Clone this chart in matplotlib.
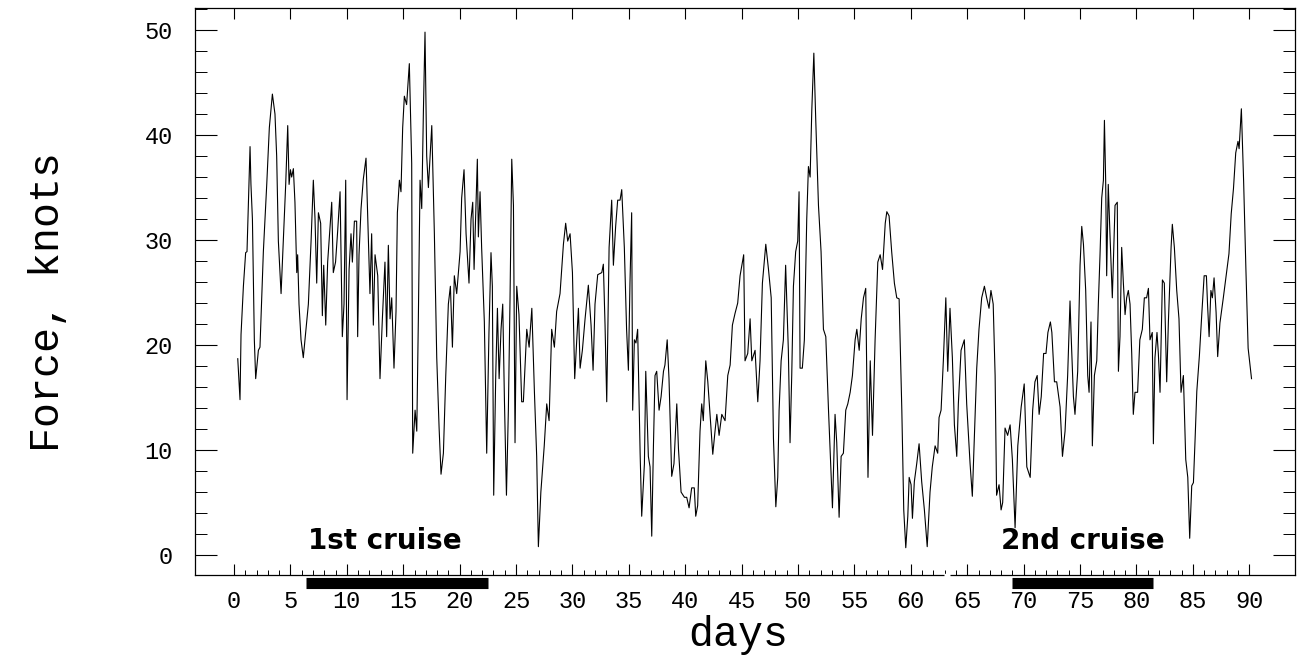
import numpy as np
import matplotlib
matplotlib.use("Agg")
import matplotlib.pyplot as plt
from matplotlib.ticker import MultipleLocator, FixedLocator
from matplotlib.transforms import blended_transform_factory

# wind force time series (days, knots)
days = [
    0.33, 0.53, 0.62, 0.83, 1.03, 1.15, 1.33, 1.42, 1.5, 1.63, 1.8, 1.92, 2.04, 2.16, 2.3, 2.6,
    2.9, 3.13, 3.4, 3.63, 3.78, 3.93, 4.17, 4.37, 4.58, 4.76, 4.88, 5.0, 5.11, 5.26, 5.4, 5.56,
    5.64, 5.76, 5.94, 6.14, 6.35, 6.59, 6.83, 7.03, 7.18, 7.33, 7.48, 7.68, 7.83, 7.95, 8.13, 8.3,
    8.51, 8.66, 8.8, 9.0, 9.19, 9.4, 9.6, 9.75, 9.9, 10.02, 10.2, 10.37, 10.49, 10.67, 10.87, 10.96,
    11.08, 11.26, 11.46, 11.7,
    12.05, 12.2, 12.35, 12.5, 12.74, 12.94, 13.15, 13.38, 13.53, 13.68, 13.83, 13.98, 14.18, 14.36,
    14.48, 14.66, 14.8, 14.95, 15.1, 15.3, 15.54, 15.75, 15.84, 16.05, 16.2, 16.34, 16.49, 16.64,
    16.79, 16.93, 17.08, 17.23, 17.38, 17.53, 17.76, 17.97, 18.18, 18.35, 18.56, 18.77, 19.0, 19.18,
    19.36, 19.53, 19.74, 20.04, 20.18, 20.39, 20.57, 20.83, 21.01, 21.16, 21.28, 21.42, 21.57, 21.66,
    21.81, 21.95, 22.19, 22.4, 22.6, 22.78, 22.9, 23.02, 23.2, 23.35, 23.5, 23.67, 23.82, 23.97, 24.15,
    24.32, 24.47, 24.62, 24.77, 24.91, 25.06, 25.26, 25.5, 25.65, 25.95, 26.16, 26.4, 26.63, 26.83,
    26.98, 27.2, 27.5, 27.72, 27.93, 28.16, 28.4, 28.6, 28.9, 29.2, 29.4, 29.58, 29.79, 30.0, 30.2,
    30.53, 30.68, 30.88, 31.12, 31.41, 31.65, 31.83, 32.0, 32.24, 32.6, 32.74, 32.89, 33.04, 33.25,
    33.48, 33.63, 33.83, 34.01, 34.22, 34.37, 34.6, 34.8, 34.96, 35.1, 35.25, 35.34, 35.49, 35.63,
    35.78, 36.0, 36.14, 36.38,
    36.5, 36.73, 36.88, 37.03, 37.18, 37.32, 37.47, 37.68, 37.86, 38.07, 38.2, 38.4, 38.56, 38.8,
    39.0, 39.25, 39.4, 39.63, 39.93, 40.13, 40.34, 40.57, 40.8, 40.93, 41.1, 41.31, 41.46, 41.6,
    41.82, 42.0, 42.2, 42.44, 42.64, 42.8, 43.0, 43.24, 43.53, 43.77, 43.98, 44.18, 44.41, 44.65,
    44.86, 45.07, 45.18, 45.3, 45.54, 45.75, 45.9, 46.19, 46.43, 46.63, 46.84, 47.14, 47.38, 47.62,
    47.82, 48.03, 48.2, 48.32, 48.5, 48.7,
    48.9, 49.14, 49.29, 49.44, 49.59, 49.79, 49.97, 50.09, 50.18, 50.38, 50.56, 50.77, 50.92, 51.07,
    51.22, 51.4, 51.57, 51.81, 52.04, 52.25, 52.46, 52.7, 53.05, 53.28, 53.43, 53.64, 53.82, 54.02,
    54.23, 54.41, 54.62, 54.82, 55.06, 55.21, 55.42, 55.6, 55.8, 56.0, 56.2, 56.4, 56.6, 56.83,
    57.07, 57.28, 57.49, 57.73, 57.87, 58.07, 58.3, 58.54, 58.75, 58.96, 59.2, 59.37, 59.55, 59.73,
    59.85, 60.02, 60.14, 60.31, 60.52, 60.73, 60.96, 61.2, 61.45,
    61.7, 61.9, 62.15, 62.38, 62.5, 62.68, 62.88, 63.1, 63.27, 63.47, 63.68, 63.86, 64.07, 64.21,
    64.45, 64.74, 64.95, 65.25, 65.45, 65.63, 65.84, 66.04, 66.28, 66.52, 66.72, 66.93, 67.1, 67.3,
    67.47, 67.6, 67.82, 68.0, 68.14, 68.35, 68.58, 68.8, 69.0, 69.24, 69.48, 69.78, 70.05, 70.28,
    70.58, 70.8, 71.0, 71.2, 71.37, 71.56, 71.77, 71.98, 72.15, 72.37, 72.5, 72.73, 72.93, 73.23,
    73.44,
    73.67, 73.9, 74.11, 74.2, 74.41, 74.55, 74.79, 75.0, 75.15, 75.3, 75.5, 75.68, 75.8, 75.97,
    76.09, 76.27, 76.48, 76.62, 76.77, 76.92, 77.07, 77.16, 77.27, 77.36, 77.5, 77.65, 77.86, 78.1,
    78.3, 78.4, 78.54, 78.69, 78.84, 78.99, 79.13, 79.28, 79.43, 79.58, 79.72, 79.87, 80.1, 80.3,
    80.52, 80.7, 80.9, 81.06, 81.2, 81.4, 81.5, 81.64, 81.82, 81.94, 82.09, 82.3, 82.47, 82.68,
    82.83, 83.07, 83.18, 83.36, 83.57, 83.77, 83.95, 84.16, 84.37, 84.55, 84.72,
    84.9, 85.05, 85.2, 85.35, 85.58, 85.8, 86.0, 86.2, 86.3, 86.44, 86.6, 86.73, 86.88, 87.06,
    87.2, 87.4, 87.7, 88.0, 88.2, 88.4, 88.6, 88.8, 89.0, 89.1, 89.3, 89.5, 89.7, 89.9, 90.2,
]
force = [
    18.7, 14.8, 21, 25.6, 28.8, 28.9, 35.7, 38.9, 35.3, 32, 20.5, 16.8, 18.1, 19.5, 19.8, 28.9,
    35.3, 40.7, 43.9, 42, 38, 29.9, 24.9, 29.9, 35.3, 40.9, 35.3, 36.7, 36, 36.8, 33.6, 26.9,
    28.6, 23.9, 20.5, 18.8, 21.2, 23.9, 29.9, 35.7, 32, 25.9, 32.6, 31.6, 22.8, 27.6, 21.9, 27.9,
    31.3, 33.6, 26.9, 27.9, 30.9, 34.6, 20.8, 23.9, 35.7, 14.8, 27.2, 30.6, 27.9, 31.8, 31.8, 20.8,
    28.6, 33, 35.8, 37.8,
    24.9, 30.6, 21.9, 28.6, 26.6, 16.8, 22.5, 27.9, 20.8, 29.5, 22.5, 24.5, 17.8, 23.2,
    32.6, 35.7, 34.6, 40.7, 43.7, 42.9, 46.8, 37.3, 9.7, 13.8, 11.8, 22.5, 35.7, 33,
    42.4, 49.8, 38, 35, 38, 40.9, 30.6, 18.8, 12.1, 7.7, 9.7, 17.1, 23.9, 25.6,
    19.8, 26.6, 24.9, 28.9, 34, 36.7, 30.6, 25.9, 32, 33.6, 27.2, 32.3, 37.7, 30.3,
    34.6, 29.3, 22.2, 9.7, 21.2, 28.8, 25.6, 5.7, 17.1, 23.5, 16.8, 21.5, 23.9, 14.8, 5.7,
    13.8, 24.6, 37.7, 33.3, 10.7, 25.6, 22.9, 14.6, 14.6, 21.5, 19.8, 23.5, 15.5, 9.4,
    0.8, 6, 10.4, 14.4, 12.8, 21.5, 19.8, 23.2, 24.9, 29.6, 31.6, 29.9, 30.6, 26.9, 16.8,
    23.5, 17.8, 19.5, 22.5, 25.7, 21.9, 17.6, 23.9, 26.7, 26.9, 27.7, 21.9, 14.6, 29.3,
    33.8, 27.6, 31.3, 33.8, 33.8, 34.8, 29.3, 21.5, 17.6, 25.9, 32.6, 13.8, 20.5, 20.2,
    21.5, 9.7, 3.7, 8.7,
    17.5, 9.4, 8.4, 1.8, 10.4, 17.1, 17.5, 13.8, 15.1, 17.5, 18.1, 20.5, 16.8, 7.5,
    8.7, 14.4, 10.1, 6, 5.5, 5.5, 4.5, 6.4, 6.4, 3.7, 4.7, 11.8, 14.4, 12.8,
    18.5, 16.5, 13.4, 9.6, 11.8, 13.4, 11.4, 13.4, 12.8, 17.1, 18.1, 21.9, 23, 24,
    26.6, 27.9, 28.6, 18.5, 19.2, 22.5, 18.5, 19.5, 14.6, 18.5, 25.9, 29.6, 27.2, 24.5,
    11.1, 4.6, 7.4, 13.8, 18.5, 20.5,
    27.6, 19.5, 10.7, 17.1, 25.6, 28.9, 29.9, 34.6, 17.8, 17.8, 20.5, 32, 37, 36,
    42.4, 47.8, 41.4, 33.3, 28.9, 21.5, 20.8, 13.8, 4.5, 13.4, 10.7, 3.6, 9.4, 9.7,
    13.8, 14.4, 15.5, 17.1, 20.5, 21.5, 19.5, 22.5, 24.5, 25.4, 7.4, 18.5, 11.4, 20.5,
    27.9, 28.6, 27.2, 31.6, 32.7, 32.3, 28.9, 25.9, 24.5, 24.4, 13.8, 4.3, 0.7, 3.7,
    7.4, 6.7, 3.5, 7, 8.7, 10.6, 7, 4.3, 0.8,
    6, 8.4, 10.4, 9.7, 13.1, 13.8, 18.5, 24.5, 17.5, 23.5, 18.8, 12.4, 9.4, 14.4,
    19.5, 20.5, 14.4, 8.7, 5.6, 11.1, 17.8, 21.5, 24.5, 25.6, 24.5, 23.5, 25.2, 23.9,
    17.1, 5.7, 6.7, 4.3, 5, 12.1, 11.4, 12.4, 9.1, 2.6, 10.4, 14.1, 16.3, 8.4,
    7.4, 13.8, 16.5, 17.1, 13.4, 15.1, 19.2, 19.2, 21.2, 22.2, 21.2, 16.5, 16.5, 14.1,
    9.4,
    11.8, 17.1, 24.2, 21.2, 15.1, 13.4, 17.5, 27.6, 31.3, 29.6, 25.2, 17.1, 15.5, 22.2,
    10.4, 17.1, 18.5, 23.9, 28.6, 34, 35.7, 41.4, 35.7, 26.6, 35.3, 30.6, 24.5, 33.3,
    33.6, 17.5, 20.8, 29.3, 25.9, 22.9, 24.5, 25.2, 23.9, 19.2, 13.4, 15.5, 15.5, 20.5,
    21.5, 24.5, 24.5, 25.4, 20.5, 21.2, 10.6, 18.8, 21.2, 19.2, 15.5, 26.2, 25.9, 16.5,
    22.2, 29.3, 31.5, 29.3, 25.2, 22.5, 15.5, 17.1, 9.1, 7.4, 1.6,
    6.6, 6.9, 11.1, 15.6, 19, 23.1, 26.6, 26.6, 23.9, 20.8, 25.2, 24.5, 26.4, 23.1,
    18.9, 22.1, 24.5, 27, 28.7, 32.5, 34.9, 38.3, 39.4, 38.7, 42.5, 35.6, 27.3, 19.7, 16.8,
]

# cruise periods shown as black bars under the axis
cruise_names = ["1st cruise", "2nd cruise"]
cruise_start = [6.4, 69.0]
cruise_end = [22.5, 81.5]
cruise_label_x = [13.4, 75.2]

x_ticks = list(range(0, 91, 5))
y_ticks = [0, 10, 20, 30, 40, 50]

mono = "Liberation Mono"

fig = plt.figure(figsize=(13, 6.55), dpi=100)
ax = fig.add_axes([0.15, 0.1221, 0.8462, 0.8657])

ax.plot(days, force, color="black", linewidth=0.8)

ax.set_xlim(-3.46, 94.06)
ax.set_ylim(-1.9, 52.1)

# ticks: inward on every side, like the original plotting package
ax.xaxis.set_major_locator(FixedLocator(x_ticks))
ax.xaxis.set_minor_locator(FixedLocator(list(range(0, 91))))
ax.yaxis.set_major_locator(FixedLocator(y_ticks))
ax.yaxis.set_minor_locator(MultipleLocator(2))

ax.tick_params(axis="y", which="major", direction="in", length=16, width=0.8,
               left=True, right=True, pad=16, labelsize=17)
ax.tick_params(axis="y", which="minor", direction="in", length=8.5, width=0.7,
               left=True, right=True)
ax.tick_params(axis="x", which="major", direction="in", length=8, width=0.8,
               bottom=True, top=True, pad=11, labelsize=17)
ax.tick_params(axis="x", which="minor", direction="in", length=3.6, width=0.7,
               bottom=True, top=False)

for lab in ax.get_xticklabels() + ax.get_yticklabels():
    lab.set_fontfamily(mono)

for sp in ax.spines.values():
    sp.set_linewidth(0.9)

ax.set_xlabel("days", fontfamily=mono, fontsize=30)
ax.set_ylabel("Force, knots", fontfamily=mono, fontsize=30)
ax.xaxis.set_label_coords(0.494, -0.07)
ax.yaxis.set_label_coords(-0.115, 0.482)

trans = blended_transform_factory(ax.transData, ax.transAxes)

# small break in the bottom axis line around day 63 (as in the scan)
ax.plot([62.9, 63.5], [0, 0], transform=trans, color="white", linewidth=2.5,
        solid_capstyle="butt", clip_on=False, zorder=5)

# black bars + labels for the two cruises
for name, s, e, lx in zip(cruise_names, cruise_start, cruise_end, cruise_label_x):
    ax.plot([s, e], [-0.0135, -0.0135], transform=trans, color="black",
            linewidth=8, solid_capstyle="butt", clip_on=False)
    ax.text(lx, 1.3, name, ha="center", va="center", fontsize=20,
            fontweight="bold", fontfamily="DejaVu Sans")

fig.savefig("out.png", dpi=100)
